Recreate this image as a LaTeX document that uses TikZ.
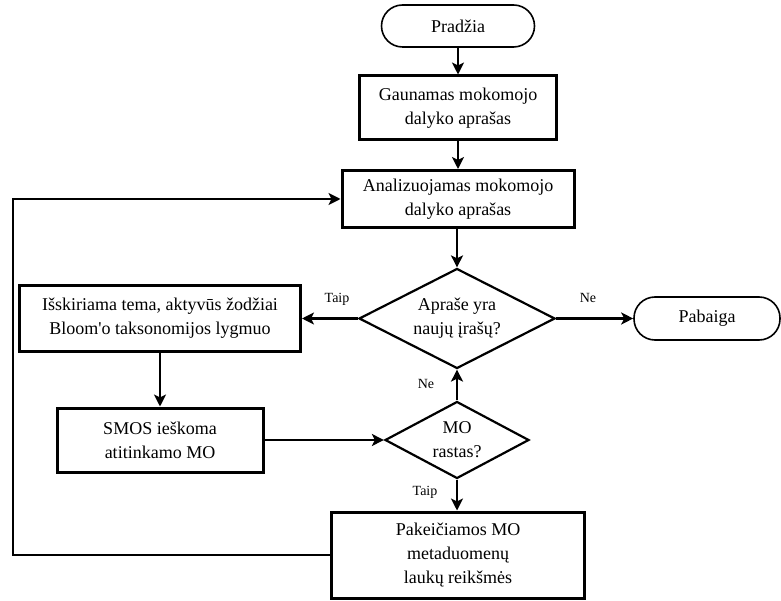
\documentclass[tikz,border=0pt]{standalone}
\usepackage{fontspec}
\setmainfont{Liberation Serif}[Ligatures=TeXOff]
\usetikzlibrary{shapes.geometric,arrows.meta}
\begin{document}
\begin{tikzpicture}[x=1pt,y=-1pt,
  font=\fontsize{18}{24}\selectfont,
  proc/.style={draw, line width=3pt, align=center, inner sep=0pt},
  term/.style={draw, line width=1.6pt, rounded corners=21pt, align=center, inner sep=0pt},
  dec/.style={draw, diamond, line width=2.2pt, align=center, inner sep=0pt},
  flow/.style={line width=2.2pt, -{Stealth[length=12pt,width=12pt,inset=3pt]}},
  lab/.style={font=\fontsize{14}{16}\selectfont, inner sep=0pt}]
\useasboundingbox (0,0) rectangle (781,601);
\node[term, minimum width=153pt, minimum height=42pt] (start) at (458,26) {Pradžia};
\node[proc, minimum width=197pt, minimum height=64pt] (get) at (458,108) {Gaunamas mokomojo\\dalyko aprašas};
\node[proc, minimum width=232pt, minimum height=57pt] (an) at (458,199) {Analizuojamas mokomojo\\dalyko aprašas};
\node[dec, aspect=1.96, minimum width=196pt, minimum height=100pt] (q1) at (457,318.5) {Apraše yra\\naujų įrašų?};
\node[term, minimum width=146pt, minimum height=43pt] (end) at (707,318.5) {Pabaiga};
\node[proc, minimum width=281pt, minimum height=65pt] (ext) at (160,318.5) {Išskiriama tema, aktyvūs žodžiai\\Bloom'o taksonomijos lygmuo};
\node[proc, minimum width=206pt, minimum height=64pt] (smos) at (160,440) {SMOS ieškoma\\atitinkamo MO};
\node[dec, aspect=1.87, minimum width=144pt, minimum height=77pt] (q2) at (457,440) {MO\\rastas?};
\node[proc, minimum width=253pt, minimum height=86pt] (chg) at (458,555) {Pakeičiamos MO\\metaduomenų\\laukų reikšmės};
\coordinate (lb) at (13,555);
\coordinate (lt) at (13,199);

\draw[flow] (start) -- (get);
\draw[flow] (get) -- (an);
\draw[flow] (an.south -| q1.north) -- (q1);
\draw[flow] (q1) -- (end);
\draw[flow] (q1) -- (ext);
\draw[flow] (ext) -- (smos);
\draw[flow] (smos.east) -- (q2.west);
\draw[flow] (q2) -- (q1);
\draw[flow] (q2.south) -- (q2.south |- chg.north);
\draw[flow] (chg.west) -- (lb) -- (lt) -- (an.west);

\node[lab] at (337,299) {Taip};
\node[lab] at (588,298) {Ne};
\node[lab] at (426,384) {Ne};
\node[lab] at (425,492) {Taip};
\end{tikzpicture}
\end{document}
